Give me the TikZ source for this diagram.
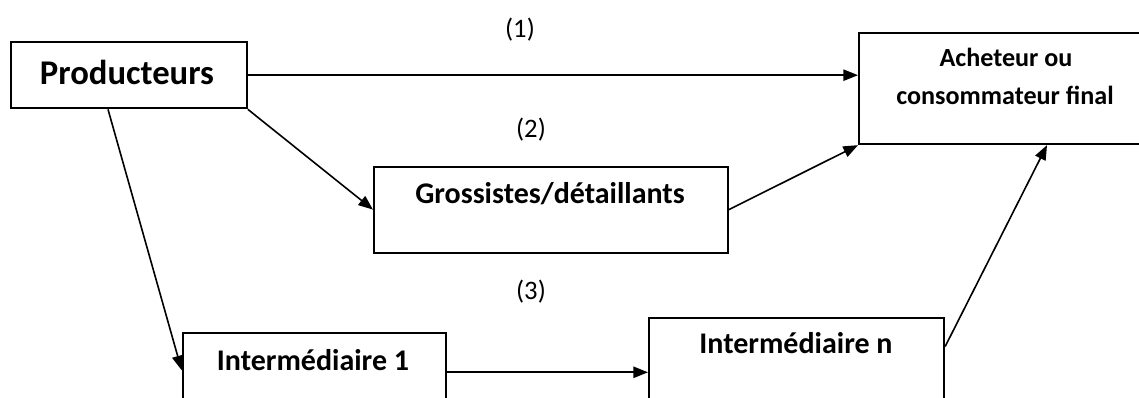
\documentclass[tikz,border=0pt]{standalone}
\usepackage{fontspec}
\setmainfont{Carlito}
\usetikzlibrary{arrows.meta,calc}
\begin{document}
\begin{tikzpicture}[x=0.75pt,y=-0.75pt,
  box/.style={draw=black,line width=1.4pt,inner sep=0pt,anchor=north west},
  flow/.style={line width=1.2pt,-{Triangle[length=11pt,width=8.5pt]}},
  bigtxt/.style={font=\fontsize{26}{31}\selectfont\bfseries,anchor=base,inner sep=0pt},
  txt/.style={font=\fontsize{22.5}{27}\selectfont\bfseries,anchor=base,inner sep=0pt},
  smalltxt/.style={font=\fontsize{19.6}{23}\selectfont\bfseries,anchor=base,inner sep=0pt},
  num/.style={font=\fontsize{20}{24}\selectfont,inner sep=0pt}]
\useasboundingbox (0,0) rectangle (1139,398);
\clip (0,0) rectangle (1139,398);
% boxes
\node[box,minimum width=236*0.75pt,minimum height=66.5*0.75pt] (prod) at (10,41) {};
\node[box,minimum width=300*0.75pt,minimum height=111.6*0.75pt] (ach) at (858,31.7) {};
\node[box,minimum width=354*0.75pt,minimum height=86*0.75pt] (gro) at (373,165.7) {};
\node[box,minimum width=263.3*0.75pt,minimum height=100*0.75pt] (int1) at (181.7,332.3) {};
\node[box,minimum width=295.3*0.75pt,minimum height=110*0.75pt] (intn) at (648,317.5) {};
% labels inside the boxes
\node[bigtxt] (tprod) at (127,85) {Producteurs};
\node[smalltxt] (tach1) at (1006,66.7) {Acheteur ou};
\node[smalltxt] (tach2) at (1005,105) {consommateur final};
\node[txt] (tgro) at (550,204) {Grossistes/détaillants};
\node[txt] (tint1) at (313,371) {Intermédiaire 1};
\node[txt] (tintn) at (796,354) {Intermédiaire n};
% channel numbers
\node[num] (n1) at (520,30) {(1)};
\node[num] (n2) at (531,130) {(2)};
\node[num] (n3) at (531,292) {(3)};
% end points on the box sides
\coordinate (d1) at ($(prod.south west)+(98,0)$);
\coordinate (d2) at ($(int1.north west)+(0,38)$);
\coordinate (e1) at ($(int1.north east)+(0,40)$);
\coordinate (f1) at ($(intn.north east)+(0,29)$);
\coordinate (f2) at ($(ach.south west)+(189,0)$);
% channels
\draw[flow] (prod.east) -- (prod.east -| ach.west);
\draw[flow] (prod.south east) -- (gro.west);
\draw[flow] (gro.east) -- (ach.south west);
\draw[flow] (d1) -- (d2);
\draw[flow] (e1) -- (e1 -| intn.west);
\draw[flow] (f1) -- (f2);
\end{tikzpicture}
\end{document}
